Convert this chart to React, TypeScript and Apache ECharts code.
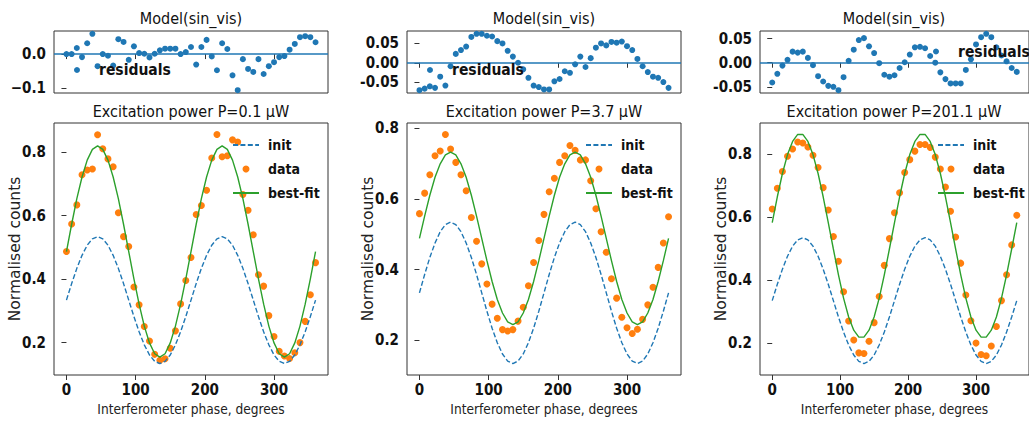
import React, { useEffect, useRef } from "react";
import * as echarts from "echarts";

// ---------- data ----------
const PHASES = [
  0, 7.5, 15, 22.5, 30, 37.5, 45, 52.5, 60, 67.5, 75, 82.5, 90, 97.5, 105, 112.5, 120,
  127.5, 135, 142.5, 150, 157.5, 165, 172.5, 180, 187.5, 195, 202.5, 210, 217.5, 225,
  232.5, 240, 247.5, 255, 262.5, 270, 277.5, 285, 292.5, 300, 307.5, 315, 322.5, 330,
  337.5, 345, 352.5, 360,
];

const INIT = [
  0.334, 0.386, 0.434, 0.475, 0.507, 0.527, 0.534, 0.527, 0.507, 0.475, 0.434, 0.386,
  0.334, 0.282, 0.234, 0.193, 0.161, 0.141, 0.134, 0.141, 0.161, 0.193, 0.234, 0.282,
  0.334, 0.386, 0.434, 0.475, 0.507, 0.527, 0.534, 0.527, 0.507, 0.475, 0.434, 0.386,
  0.334, 0.282, 0.234, 0.193, 0.161, 0.141, 0.134, 0.141, 0.161, 0.193, 0.234, 0.282,
  0.334,
];

const DATA_1 = [
  0.487, 0.574, 0.634, 0.729, 0.744, 0.747, 0.855, 0.811, 0.779, 0.754, 0.609, 0.534,
  0.503, 0.375, 0.319, 0.251, 0.205, 0.163, 0.144, 0.149, 0.182, 0.237, 0.322, 0.396,
  0.468, 0.604, 0.632, 0.68, 0.782, 0.856, 0.786, 0.789, 0.839, 0.832, 0.667, 0.617,
  0.54, 0.414, 0.378, 0.285, 0.219, 0.173, 0.158, 0.15, 0.168, 0.2, 0.267, 0.351, 0.452,
];
const FIT_1 = [
  0.487, 0.573, 0.654, 0.722, 0.775, 0.809, 0.82, 0.809, 0.775, 0.722, 0.654, 0.573,
  0.487, 0.401, 0.321, 0.252, 0.199, 0.165, 0.154, 0.165, 0.199, 0.252, 0.321, 0.401,
  0.487, 0.573, 0.654, 0.722, 0.775, 0.809, 0.82, 0.809, 0.775, 0.722, 0.654, 0.573,
  0.487, 0.401, 0.321, 0.252, 0.199, 0.165, 0.154, 0.165, 0.199, 0.252, 0.321, 0.401,
  0.487,
];
const RESID_1 = [
  0.0, 0.0, 0.018, -0.009, 0.032, 0.06, -0.036, 0.0, -0.005, -0.034, 0.044, 0.036,
  -0.017, 0.023, 0.003, 0.001, -0.01, 0.001, 0.011, 0.016, 0.016, 0.016, 0.0, 0.006,
  0.021, -0.031, 0.021, 0.042, -0.007, -0.048, 0.032, 0.015, -0.063, -0.107, -0.015,
  -0.044, -0.053, -0.015, -0.059, -0.036, -0.024, -0.009, -0.006, 0.013, 0.03, 0.05,
  0.053, 0.05, 0.035,
];

const DATA_2 = [
  0.558, 0.616, 0.668, 0.722, 0.735, 0.782, 0.741, 0.703, 0.668, 0.623, 0.547, 0.48,
  0.416, 0.359, 0.302, 0.262, 0.23, 0.226, 0.23, 0.254, 0.293, 0.354, 0.42, 0.482,
  0.556, 0.62, 0.658, 0.703, 0.722, 0.751, 0.737, 0.71, 0.71, 0.651, 0.572, 0.507,
  0.449, 0.374, 0.319, 0.265, 0.235, 0.219, 0.231, 0.259, 0.3, 0.35, 0.406, 0.475, 0.549,
];
const FIT_2 = [
  0.488, 0.551, 0.61, 0.661, 0.699, 0.724, 0.732, 0.724, 0.699, 0.661, 0.61, 0.551,
  0.488, 0.425, 0.366, 0.315, 0.277, 0.252, 0.244, 0.252, 0.277, 0.315, 0.366, 0.425,
  0.488, 0.551, 0.61, 0.661, 0.699, 0.724, 0.732, 0.724, 0.699, 0.661, 0.61, 0.551,
  0.488, 0.425, 0.366, 0.315, 0.277, 0.252, 0.244, 0.252, 0.277, 0.315, 0.366, 0.425,
  0.488,
];
const RESID_2 = [
  -0.071, -0.067, -0.061, -0.065, -0.036, -0.059, -0.009, 0.023, 0.033, 0.042, 0.067,
  0.075, 0.075, 0.07, 0.068, 0.056, 0.05, 0.031, 0.016, 0.0, -0.017, -0.039, -0.059,
  -0.063, -0.069, -0.069, -0.048, -0.042, -0.022, -0.026, -0.004, 0.016, -0.011, 0.012,
  0.039, 0.05, 0.045, 0.054, 0.052, 0.055, 0.043, 0.033, 0.01, -0.009, -0.024, -0.036,
  -0.039, -0.05, -0.065,
];

const DATA_3 = [
  0.625, 0.691, 0.744, 0.793, 0.816, 0.838, 0.835, 0.822, 0.796, 0.757, 0.693, 0.622,
  0.538, 0.459, 0.362, 0.269, 0.209, 0.168, 0.166, 0.205, 0.264, 0.347, 0.446, 0.531,
  0.613, 0.677, 0.741, 0.782, 0.809, 0.83, 0.83, 0.821, 0.79, 0.752, 0.695, 0.618,
  0.536, 0.453, 0.352, 0.27, 0.199, 0.163, 0.159, 0.19, 0.252, 0.334, 0.416, 0.511, 0.605,
];
const FIT_3 = [
  0.582, 0.664, 0.738, 0.798, 0.84, 0.862, 0.862, 0.84, 0.798, 0.738, 0.664, 0.582,
  0.498, 0.416, 0.342, 0.282, 0.24, 0.218, 0.218, 0.24, 0.282, 0.342, 0.416, 0.498,
  0.582, 0.664, 0.738, 0.798, 0.84, 0.862, 0.862, 0.84, 0.798, 0.738, 0.664, 0.582,
  0.498, 0.416, 0.342, 0.282, 0.24, 0.218, 0.218, 0.24, 0.282, 0.342, 0.416, 0.498,
  0.582,
];
const RESID_3 = [
  -0.041, -0.023, -0.006, 0.006, 0.023, 0.021, 0.023, 0.01, -0.005, -0.028, -0.039,
  -0.048, -0.05, -0.057, -0.03, 0.004, 0.027, 0.047, 0.051, 0.034, 0.02, -0.001, -0.025,
  -0.029, -0.026, -0.011, 0.001, 0.017, 0.032, 0.033, 0.03, 0.014, 0.0, -0.02, -0.034,
  -0.043, -0.043, -0.043, -0.015, 0.007, 0.038, 0.053, 0.06, 0.053, 0.032, 0.015, 0.003,
  -0.011, -0.019,
];

const POWER_TITLES = [
  "Excitation power P=0.1 μW",
  "Excitation power P=3.7 μW",
  "Excitation power P=201.1 μW",
];
const RESID_TITLE = "Model(sin_vis)";
const X_LABEL = "Interferometer phase, degrees";
const Y_LABEL = "Normalised counts";
const X_TICKS = [0, 100, 200, 300];
const Y_TICKS = [0.2, 0.4, 0.6, 0.8];
const RESID_TICKS = [
  [-0.1, 0.0],
  [-0.05, 0.0, 0.05],
  [-0.05, 0.0, 0.05],
];
const LEGEND_NAMES = ["init", "data", "best-fit"];
const RESID_NAME = "residuals";

const DATA = [DATA_1, DATA_2, DATA_3];
const FITS = [FIT_1, FIT_2, FIT_3];
const RESIDS = [RESID_1, RESID_2, RESID_3];

// ---------- layout / style ----------
const C0 = "#1f77b4";
const C1 = "#ff7f0e";
const C2 = "#2ca02c";
const COND = "'DejaVu Sans Condensed', 'DejaVu Sans', sans-serif";
const REG = "'DejaVu Sans', sans-serif";
const TXT = "#111";
const SPINE = "#333";

const PANEL_LEFT = [54, 407, 760];
const PANEL_W = 274;
const RES_TOP = 31;
const RES_H = 62;
const MAIN_TOP = 123;
const MAIN_H = 252;
const LEGEND_LEFT = [232, 585, 937];
const RES_LEGEND = [
  { left: 74, top: 61.5 },
  { left: 427, top: 61.5 },
  { left: 933, top: 43 },
];

const zip = (ys: number[]) => PHASES.map((x, i) => [x, ys[i]]);
const padMin = (e: { min: number; max: number }) => e.min - 0.05 * (e.max - e.min);
const padMax = (e: { min: number; max: number }) => e.max + 0.05 * (e.max - e.min);

function fmtResid(p: number) {
  return (v: number) => {
    if (p === 0) {
      return (v < -1e-9 ? "\u2212" : "") + Math.abs(v).toFixed(1);
    }
    return (v < -1e-9 ? "-" : "") + Math.abs(v).toFixed(2);
  };
}

function buildOption() {
  const grid: any[] = [];
  const xAxis: any[] = [];
  const yAxis: any[] = [];
  const series: any[] = [];
  const legend: any[] = [];
  const graphic: any[] = [];

  const tickLabel = {
    fontFamily: COND,
    fontWeight: "bold",
    fontSize: 15,
    color: TXT,
  };

  for (let p = 0; p < 3; p++) {
    const left = PANEL_LEFT[p];
    grid.push({
      left,
      top: RES_TOP,
      width: PANEL_W,
      height: RES_H,
      containLabel: false,
      show: true,
      borderColor: SPINE,
      borderWidth: 1,
      backgroundColor: "transparent",
    });
    grid.push({
      left,
      top: MAIN_TOP,
      width: PANEL_W,
      height: MAIN_H,
      containLabel: false,
      show: true,
      borderColor: SPINE,
      borderWidth: 1,
      backgroundColor: "transparent",
    });

    const gR = p * 2;
    const gM = p * 2 + 1;

    xAxis.push({
      type: "value",
      gridIndex: gR,
      min: padMin,
      max: padMax,
      axisLine: { show: false },
      splitLine: { show: false },
      axisTick: { show: true, length: 5, customValues: X_TICKS, lineStyle: { color: SPINE } },
      axisLabel: { show: false },
    });
    xAxis.push({
      type: "value",
      gridIndex: gM,
      min: padMin,
      max: padMax,
      axisLine: { show: false },
      splitLine: { show: false },
      axisTick: { show: true, length: 5, customValues: X_TICKS, lineStyle: { color: SPINE } },
      axisLabel: {
        ...tickLabel,
        margin: 7,
        customValues: X_TICKS,
        formatter: (v: number) => String(Math.round(v)),
      },
      name: X_LABEL,
      nameLocation: "middle",
      nameGap: 27,
      nameMoveOverlap: false,
      nameTextStyle: { fontFamily: COND, fontSize: 13.6, color: "#222" },
    });

    yAxis.push({
      type: "value",
      gridIndex: gR,
      min: padMin,
      max: padMax,
      axisLine: { show: false },
      splitLine: { show: false },
      axisTick: { show: true, length: 5, customValues: RESID_TICKS[p], lineStyle: { color: SPINE } },
      axisLabel: {
        ...tickLabel,
        margin: 8,
        customValues: RESID_TICKS[p],
        formatter: fmtResid(p),
      },
    });
    yAxis.push({
      type: "value",
      gridIndex: gM,
      min: padMin,
      max: padMax,
      axisLine: { show: false },
      splitLine: { show: false },
      axisTick: { show: true, length: 5, customValues: Y_TICKS, lineStyle: { color: SPINE } },
      axisLabel: {
        ...tickLabel,
        margin: 8,
        customValues: Y_TICKS,
        formatter: (v: number) => v.toFixed(1),
      },
      name: Y_LABEL,
      nameLocation: "middle",
      nameGap: 31,
      nameMoveOverlap: false,
      nameTextStyle: { fontFamily: REG, fontSize: 15.5, color: "#222" },
    });

    series.push({
      type: "scatter",
      name: RESID_NAME,
      xAxisIndex: gR,
      yAxisIndex: gR,
      data: zip(RESIDS[p]),
      symbol: "circle",
      symbolSize: 6,
      itemStyle: { color: C0, opacity: 1 },
      z: 3,
      markLine: {
        silent: true,
        symbol: ["none", "none"],
        label: { show: false },
        lineStyle: { color: C0, width: 1.5, type: "solid" },
        data: [{ yAxis: 0 }],
        z: 2,
      },
    });
    series.push({
      type: "line",
      name: LEGEND_NAMES[0],
      xAxisIndex: gM,
      yAxisIndex: gM,
      data: zip(INIT),
      symbol: "none",
      lineStyle: { color: C0, width: 1.4, type: [5, 2.4] },
      itemStyle: { color: C0 },
    });
    series.push({
      type: "scatter",
      name: LEGEND_NAMES[1],
      xAxisIndex: gM,
      yAxisIndex: gM,
      data: zip(DATA[p]),
      symbol: "circle",
      symbolSize: 7,
      itemStyle: { color: C1, opacity: 1 },
    });
    series.push({
      type: "line",
      name: LEGEND_NAMES[2],
      xAxisIndex: gM,
      yAxisIndex: gM,
      data: zip(FITS[p]),
      symbol: "none",
      lineStyle: { color: C2, width: 1.4 },
      itemStyle: { color: C2 },
    });

    const hidden = { opacity: 0, color: "rgba(0,0,0,0)", borderWidth: 0 };
    legend.push({
      orient: "vertical",
      left: LEGEND_LEFT[p],
      top: 137,
      itemWidth: 26,
      itemHeight: 7,
      itemGap: 8,
      selectedMode: false,
      padding: 0,
      data: [
        { name: LEGEND_NAMES[0], itemStyle: hidden },
        { name: LEGEND_NAMES[1] },
        { name: LEGEND_NAMES[2], itemStyle: hidden },
      ],
      textStyle: {
        fontFamily: COND,
        fontWeight: "bold",
        fontSize: 14,
        color: TXT,
        lineHeight: 16,
        padding: [0, 0, 0, 4],
      },
    });
    legend.push({
      orient: "vertical",
      left: RES_LEGEND[p].left,
      top: RES_LEGEND[p].top,
      itemWidth: 26,
      itemHeight: 6,
      selectedMode: false,
      padding: 0,
      data: [RESID_NAME],
      textStyle: {
        fontFamily: COND,
        fontWeight: "bold",
        fontSize: 15.5,
        color: TXT,
        lineHeight: 17,
        padding: [0, 0, 0, 4],
      },
    });

    const cx = left + PANEL_W / 2;
    graphic.push({
      type: "text",
      x: p === 2 ? cx - 3 : cx,
      y: 18,
      style: {
        text: RESID_TITLE,
        fontFamily: COND,
        fontSize: 16,
        fill: TXT,
        align: "center",
        verticalAlign: "middle",
      },
    });
    graphic.push({
      type: "text",
      x: p === 2 ? cx - 3 : cx,
      y: 111,
      style: {
        text: POWER_TITLES[p],
        fontFamily: COND,
        fontSize: 16,
        fill: TXT,
        align: "center",
        verticalAlign: "middle",
      },
    });
  }

  return {
    animation: false,
    backgroundColor: "#ffffff",
    grid,
    xAxis,
    yAxis,
    series,
    legend,
    graphic,
  };
}

export default function App() {
  const ref = useRef<HTMLDivElement>(null);
  useEffect(() => {
    if (!ref.current) return;
    const chart = echarts.init(ref.current, undefined, { renderer: "svg" });
    chart.setOption(buildOption() as any);
    return () => chart.dispose();
  }, []);
  return (
    <div
      ref={ref}
      style={{ position: "absolute", left: 0, top: 0, width: 1029, height: 423, background: "#fff" }}
    />
  );
}
